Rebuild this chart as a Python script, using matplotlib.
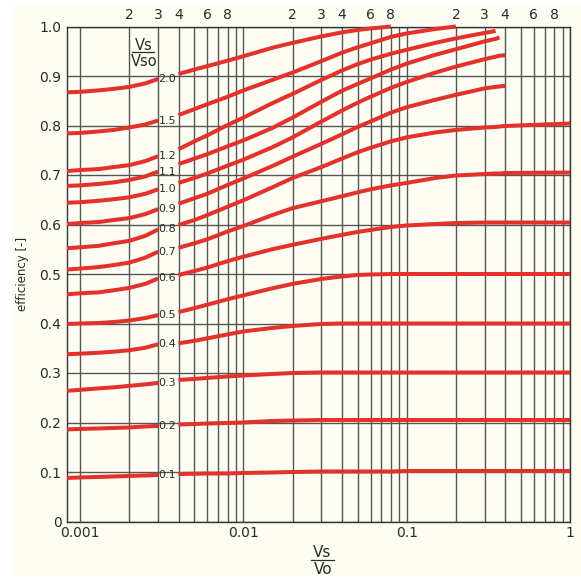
import numpy as np
import matplotlib
matplotlib.use("Agg")
import matplotlib.pyplot as plt
from matplotlib.ticker import FixedLocator, NullFormatter, NullLocator
from matplotlib.patches import Rectangle
from matplotlib.lines import Line2D

nan = np.nan

# curve parameter Vs/Vso
ratios = ["2.0", "1.5", "1.2", "1.1", "1.0", "0.9", "0.8", "0.7",
          "0.6", "0.5", "0.4", "0.3", "0.2", "0.1"]

# left part of each curve (before the label)
x_left = [0.00083, 0.001, 0.0013, 0.0016, 0.002, 0.0025, 0.003]
eff_left = [
    [0.867, 0.868, 0.871, 0.874, 0.878, 0.885, 0.894],
    [0.784, 0.785, 0.788, 0.791, 0.796, 0.802, 0.810],
    [0.708, 0.710, 0.712, 0.716, 0.720, 0.728, 0.738],
    [0.678, 0.679, 0.682, 0.685, 0.690, 0.697, 0.707],
    [0.644, 0.645, 0.648, 0.651, 0.655, 0.662, 0.671],
    [0.601, 0.603, 0.605, 0.609, 0.613, 0.621, 0.631],
    [0.552, 0.554, 0.557, 0.562, 0.567, 0.577, 0.590],
    [0.509, 0.511, 0.514, 0.518, 0.523, 0.533, 0.545],
    [0.459, 0.461, 0.463, 0.467, 0.472, 0.480, 0.491],
    [0.399, 0.400, 0.401, 0.403, 0.406, 0.411, 0.417],
    [0.338, 0.339, 0.341, 0.343, 0.346, 0.351, 0.358],
    [0.264, 0.266, 0.269, 0.271, 0.274, 0.277, 0.280],
    [0.186, 0.187, 0.188, 0.189, 0.190, 0.192, 0.193],
    [0.088, 0.089, 0.090, 0.091, 0.092, 0.093, 0.094],
]

# right part of each curve (after the label), nan = curve has ended
x_right = [0.004, 0.005, 0.006, 0.008, 0.01, 0.015, 0.02, 0.03, 0.04, 0.05,
           0.06, 0.08, 0.1, 0.15, 0.2, 0.3, 0.35, 0.37, 0.4, 1.0]
eff_right = [
    [0.904, 0.913, 0.920, 0.931, 0.940, 0.957, 0.967, 0.980, 0.988, 0.993,
     0.996, 1.000, nan, nan, nan, nan, nan, nan, nan, nan],
    [0.821, 0.833, 0.843, 0.858, 0.871, 0.892, 0.907, 0.930, 0.947, 0.958,
     0.966, 0.979, 0.986, 0.995, 1.000, nan, nan, nan, nan, nan],
    [0.752, 0.768, 0.780, 0.801, 0.816, 0.845, 0.864, 0.892, 0.911, 0.924,
     0.933, 0.945, 0.953, 0.967, 0.976, 0.987, 0.991, nan, nan, nan],
    [0.722, 0.733, 0.742, 0.758, 0.770, 0.795, 0.816, 0.848, 0.870, 0.884,
     0.895, 0.913, 0.925, 0.943, 0.954, 0.970, 0.975, 0.978, nan, nan],
    [0.684, 0.694, 0.703, 0.719, 0.731, 0.756, 0.776, 0.808, 0.830, 0.846,
     0.858, 0.876, 0.888, 0.907, 0.919, 0.934, 0.939, 0.941, 0.942, nan],
    [0.642, 0.653, 0.662, 0.680, 0.693, 0.718, 0.737, 0.763, 0.782, 0.797,
     0.808, 0.826, 0.837, 0.852, 0.862, 0.875, 0.878, 0.879, 0.880, nan],
    [0.599, 0.609, 0.619, 0.636, 0.649, 0.675, 0.694, 0.716, 0.733, 0.746,
     0.755, 0.768, 0.776, 0.786, 0.791, 0.796, 0.797, 0.798, 0.799, 0.804],
    [0.553, 0.562, 0.570, 0.586, 0.597, 0.619, 0.633, 0.647, 0.657, 0.665,
     0.671, 0.679, 0.684, 0.694, 0.699, 0.702, 0.703, 0.703, 0.704, 0.705],
    [0.498, 0.506, 0.513, 0.526, 0.535, 0.550, 0.559, 0.571, 0.579, 0.585,
     0.589, 0.595, 0.598, 0.601, 0.603, 0.604, 0.604, 0.604, 0.604, 0.604],
    [0.423, 0.431, 0.438, 0.449, 0.457, 0.471, 0.480, 0.490, 0.495, 0.498,
     0.499, 0.500, 0.500, 0.500, 0.500, 0.500, 0.500, 0.500, 0.500, 0.500],
    [0.360, 0.365, 0.370, 0.378, 0.384, 0.391, 0.395, 0.399, 0.400, 0.400,
     0.400, 0.400, 0.400, 0.400, 0.400, 0.400, 0.400, 0.400, 0.400, 0.400],
    [0.286, 0.288, 0.290, 0.293, 0.295, 0.298, 0.300, 0.301, 0.301, 0.301,
     0.301, 0.301, 0.301, 0.301, 0.301, 0.301, 0.301, 0.301, 0.301, 0.301],
    [0.196, 0.197, 0.198, 0.199, 0.200, 0.203, 0.204, 0.205, 0.205, 0.205,
     0.205, 0.205, 0.205, 0.205, 0.205, 0.205, 0.205, 0.205, 0.205, 0.205],
    [0.096, 0.0965, 0.097, 0.097, 0.098, 0.099, 0.100, 0.101, 0.101, 0.101,
     0.101, 0.101, 0.102, 0.102, 0.102, 0.102, 0.102, 0.102, 0.102, 0.102],
]

x_major = [0.001, 0.01, 0.1, 1]
x_major_labels = ["0.001", "0.01", "0.1", "1"]
x_minor = [k * 10.0 ** d for d in (-3, -2, -1) for k in range(2, 10)]
top_pos = [0.002, 0.003, 0.004, 0.006, 0.008,
           0.02, 0.03, 0.04, 0.06, 0.08,
           0.2, 0.3, 0.4, 0.6, 0.8]
top_labels = ["2", "3", "4", "6", "8"] * 3
y_ticks = [0, 0.1, 0.2, 0.3, 0.4, 0.5, 0.6, 0.7, 0.8, 0.9, 1.0]
y_labels = ["0", "0.1", "0.2", "0.3", "0.4", "0.5", "0.6", "0.7", "0.8", "0.9", "1.0"]

cream = "#fdfdf3"
red = "#e2322b"
gridc = "#555555"
txt = "#2a2a2a"

W, H = 581, 578
fig = plt.figure(figsize=(W / 100, H / 100), dpi=100, facecolor="white")
fig.add_artist(Rectangle((12 / W, 1 / H), 569 / W, 572 / H, transform=fig.transFigure,
                         facecolor=cream, edgecolor="none", zorder=-10))
ax = fig.add_axes([67 / W, 1 - 521.5 / H, 503 / W, 495 / H])
ax.set_facecolor(cream)
ax.set_xscale("log")
ax.set_xlim(0.00083, 1)
ax.set_ylim(0, 1)

ax.set_xticks(x_major, labels=x_major_labels)
ax.xaxis.set_minor_locator(FixedLocator(x_minor))
ax.xaxis.set_minor_formatter(NullFormatter())
ax.set_yticks(y_ticks, labels=y_labels)
ax.tick_params(which="both", length=0, colors=txt, labelsize=10)
ax.tick_params(axis="x", pad=3)
ax.tick_params(axis="y", pad=4)

ax.grid(which="both", axis="x", color=gridc, lw=1.0)
ax.grid(which="major", axis="y", color=gridc, lw=1.0)
ax.set_axisbelow(True)
for s in ax.spines.values():
    s.set_color("#333333")
    s.set_linewidth(1.0)

sec = ax.secondary_xaxis("top")
sec.set_xticks(top_pos, labels=top_labels)
sec.xaxis.set_minor_locator(NullLocator())
sec.tick_params(length=0, pad=3, labelsize=10, colors=txt)
sec.spines["top"].set_visible(False)

for i, r in enumerate(ratios):
    ax.plot(x_left, eff_left[i], color=red, lw=2.9, solid_capstyle="butt",
            solid_joinstyle="round", clip_on=False, zorder=3)
    ax.plot(x_right, eff_right[i], color=red, lw=2.9, solid_capstyle="butt",
            solid_joinstyle="round", clip_on=False, zorder=3)
    ax.text(0.00302, eff_left[i][-1], r, fontsize=8, ha="left", va="center",
            color=txt, zorder=4)

# Vs / Vso in the upper left
ax.text(0.00244, 0.953, "Vs", fontsize=10.5, ha="center", va="baseline", color=txt)
ax.text(0.00248, 0.945, "Vso", fontsize=10.5, ha="center", va="top", color=txt)
ax.add_line(Line2D([(132 - 67) / 503, (154 - 67) / 503], [0.9485, 0.9485],
                   transform=ax.transAxes, color=txt, lw=0.9))

# axis labels
ax.set_ylabel("efficiency [-]", fontsize=8.5, color=txt)
ax.yaxis.set_label_coords(-0.075, 0.5)
fig.text(322 / W, 1 - 557 / H, "Vs", fontsize=11, ha="center", va="baseline", color=txt)
fig.text(323 / W, 1 - 561.5 / H, "Vo", fontsize=11, ha="center", va="top", color=txt)
fig.add_artist(Line2D([311 / W, 334 / W], [1 - 560 / H, 1 - 560 / H],
                      transform=fig.transFigure, color=txt, lw=0.9))

fig.savefig("out.png", dpi=100, facecolor=fig.get_facecolor())
